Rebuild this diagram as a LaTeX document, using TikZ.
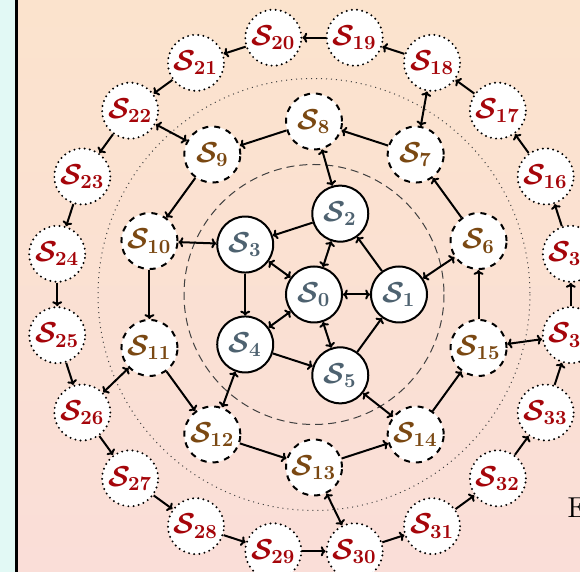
\documentclass[tikz,border=0pt]{standalone}
\usetikzlibrary{calc,arrows.meta}
\definecolor{innertxt}{RGB}{78,98,112}
\definecolor{midtxt}{RGB}{122,72,18}
\definecolor{outtxt}{RGB}{165,5,10}
\definecolor{bgtop}{RGB}{251,227,205}
\definecolor{bgbot}{RGB}{250,222,216}
\definecolor{stripc}{RGB}{226,249,245}
\begin{document}
\begin{tikzpicture}[x=0.5pt,y=-0.5pt,
  base/.style={circle, fill=white, minimum size=28pt, inner sep=0pt, font=\fontsize{14.4}{17}\selectfont\boldmath},
  innernode/.style={base, draw, line width=1pt, text=innertxt},
  midnode/.style={base, draw, line width=1pt, dashed, text=midtxt},
  outnode/.style={base, draw, line width=1.1pt, dash pattern=on 0pt off 2.6pt, line cap=round, text=outtxt},
  tipa/.tip={To[length=2.4pt,width=5pt]},
  edge/.style={-tipa, line width=1pt},
  biedge/.style={tipa-tipa, line width=1pt},
  ring/.style={line width=0.5pt, draw=black!75}]
\useasboundingbox (0,0) rectangle (580,572);
\clip (0,0) rectangle (580,572);
\shade[top color=bgtop, bottom color=bgbot] (0,0) rectangle (580,572);
\fill[stripc] (0,0) rectangle (15,572);
\draw[line width=1.5pt] (16,-2) -- (16,574);
\coordinate (c) at (314,294.5);
\draw[ring, dash pattern=on 4pt off 2.5pt] (c) circle[radius=130];
\draw[ring, dash pattern=on 0.5pt off 2pt] (c) circle[radius=216];
\node[innernode] (s0) at (c) {$\mathcal{S}_{0}$};
\foreach \i in {1,...,5} {
  \pgfmathsetmacro\a{(\i-1)*72}
  \node[innernode] (s\i) at ({314+85*cos(\a)},{294.5-85*sin(\a)}) {$\mathcal{S}_{\i}$};
}
\foreach \i in {6,...,15} {
  \pgfmathsetmacro\a{18+(\i-6)*36}
  \node[midnode] (s\i) at ({314+173*cos(\a)},{294.5-173*sin(\a)}) {$\mathcal{S}_{\i}$};
}
\foreach \i in {16,...,35} {
  \pgfmathsetmacro\a{27+(\i-16)*18}
  \node[outnode] (s\i) at ({314+260*cos(\a)},{294.5-260*sin(\a)}) {$\mathcal{S}_{\i}$};
}
\foreach \i/\j in {1/2,2/3,3/4,4/5,5/1} \draw[edge] (s\i) -- (s\j);
\foreach \i in {1,...,5} \draw[biedge] (s0) -- (s\i);
\foreach \i/\j in {1/6,2/8,3/10,4/12,5/14} \draw[biedge] (s\i) -- (s\j);
\foreach \i/\j in {6/7,7/8,8/9,9/10,10/11,11/12,12/13,13/14,14/15,15/6} \draw[edge] (s\i) -- (s\j);
\foreach \i/\j in {7/18,9/22,11/26,13/30,15/34} \draw[biedge] (s\i) -- (s\j);
\foreach \i/\j in {16/17,17/18,18/19,19/20,20/21,21/22,22/23,23/24,24/25,25/26,26/27,27/28,28/29,29/30,30/31,31/32,32/33,33/34,34/35,35/16} \draw[edge] (s\i) -- (s\j);
\node[anchor=base west, inner sep=0pt, font=\fontsize{14.4}{17}\selectfont] (e) at (567,518) {E};
\end{tikzpicture}
\end{document}
